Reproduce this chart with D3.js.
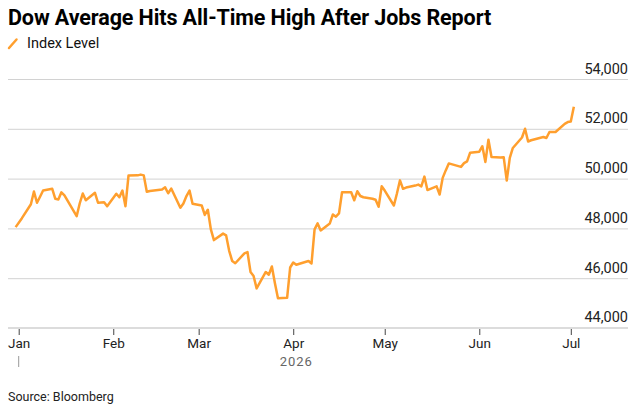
<!DOCTYPE html>
<html>
<head>
<meta charset="utf-8">
<script src="https://cdn.jsdelivr.net/npm/d3@7"></script>
<style>
  body { margin: 0; background: #fff; }
  svg { display: block; font-family: Roboto, "Liberation Sans", sans-serif; }
</style>
</head>
<body>
<svg width="642" height="413"></svg>
<script>
// Dow Jones close
var dates = [
  "2025-12-31","2026-01-02","2026-01-05","2026-01-06","2026-01-07","2026-01-08","2026-01-09",
  "2026-01-12","2026-01-13","2026-01-14","2026-01-15","2026-01-16","2026-01-20","2026-01-21",
  "2026-01-22","2026-01-23","2026-01-26","2026-01-27","2026-01-28","2026-01-29","2026-01-30",
  "2026-02-02","2026-02-03","2026-02-04","2026-02-05","2026-02-06","2026-02-09","2026-02-10",
  "2026-02-11","2026-02-12","2026-02-13","2026-02-17","2026-02-18","2026-02-19","2026-02-20",
  "2026-02-23","2026-02-24","2026-02-25","2026-02-26","2026-02-27",
  "2026-03-02","2026-03-03","2026-03-04","2026-03-05","2026-03-06","2026-03-09","2026-03-10",
  "2026-03-11","2026-03-12","2026-03-13","2026-03-16","2026-03-17","2026-03-18","2026-03-19",
  "2026-03-20","2026-03-23","2026-03-24","2026-03-25","2026-03-26","2026-03-27","2026-03-30",
  "2026-03-31","2026-04-01","2026-04-02","2026-04-06","2026-04-07","2026-04-08","2026-04-09",
  "2026-04-10","2026-04-13","2026-04-14","2026-04-15","2026-04-16","2026-04-17","2026-04-20",
  "2026-04-21","2026-04-22","2026-04-23","2026-04-24","2026-04-27","2026-04-28","2026-04-29",
  "2026-04-30","2026-05-01","2026-05-04","2026-05-05","2026-05-06","2026-05-07","2026-05-08",
  "2026-05-11","2026-05-12","2026-05-13","2026-05-14","2026-05-15","2026-05-18","2026-05-19",
  "2026-05-20","2026-05-21","2026-05-22","2026-05-26","2026-05-27","2026-05-28","2026-05-29",
  "2026-06-01","2026-06-02","2026-06-03","2026-06-04","2026-06-05","2026-06-08","2026-06-09",
  "2026-06-10","2026-06-11","2026-06-12","2026-06-15","2026-06-16","2026-06-17","2026-06-18",
  "2026-06-22","2026-06-23","2026-06-24","2026-06-25","2026-06-26","2026-06-29","2026-06-30",
  "2026-07-01","2026-07-02"
];
var values = [
  48050,48400,48970,49480,49030,49270,49520,
  49590,49190,49160,49450,49330,48490,49000,
  49400,49130,49430,49030,49040,49050,48890,
  49390,49250,49520,48890,50120,50130,50160,
  50130,49470,49500,49560,49650,49410,49600,
  48830,49000,49300,49520,48990,
  48920,48540,48750,47960,47530,47790,47720,
  47100,46690,46600,47000,47050,46250,46090,
  45590,46250,46140,46470,45800,45190,45210,
  46430,46630,46540,46690,46590,47960,48200,
  47920,48200,48560,48470,48600,49450,49450,
  49130,49490,49300,49250,49190,49150,48870,
  49690,49520,48920,49400,49930,49590,49640,
  49720,49760,49690,50080,49540,49690,49360,
  50030,50330,50610,50470,50620,50690,51040,
  51080,51300,50670,51560,50870,50850,50860,
  49920,50830,51230,51650,52000,51490,51540,
  51670,51630,51870,51870,51870,52200,52270,
  52290,52890
];
var monthTicks = ["2026-01-01","2026-02-01","2026-03-01","2026-04-01","2026-05-01","2026-06-01","2026-07-01"];
var yTicks = [44000, 46000, 48000, 50000, 52000, 54000];

var parse = d3.timeParse("%Y-%m-%d");
var data = dates.map(function(d, i) { return {date: parse(d), value: values[i]}; });

var svg = d3.select("svg");

var x = d3.scaleTime()
    .domain([parse("2026-01-01"), parse("2026-07-01")])
    .range([18.7, 570.8]);
var y = d3.scaleLinear()
    .domain([44000, 54000])
    .range([328, 79]);

// title + legend
svg.append("text")
    .attr("x", 8).attr("y", 25)
    .attr("font-size", 21.5).attr("font-weight", 700)
    .attr("letter-spacing", -0.1)
    .attr("fill", "#000")
    .text("Dow Average Hits All-Time High After Jobs Report");

svg.append("line")
    .attr("x1", 9).attr("y1", 48).attr("x2", 16.5).attr("y2", 39.5)
    .attr("stroke", "#ff9f2e").attr("stroke-width", 2.5).attr("stroke-linecap", "round");
svg.append("text")
    .attr("x", 27).attr("y", 48)
    .attr("font-size", 14.5).attr("fill", "#111")
    .text("Index Level");

// y gridlines and labels
var yAxis = svg.append("g")
    .attr("transform", "translate(628,0)")
    .call(d3.axisLeft(y).tickValues(yTicks.slice(1)).tickSize(620).tickFormat(d3.format(",")));
yAxis.select(".domain").remove();
yAxis.selectAll(".tick line").attr("stroke", "#d2d2d2");
yAxis.selectAll(".tick text")
    .attr("x", 0).attr("dy", -6)
    .attr("text-anchor", "end")
    .attr("font-size", 14.5).attr("font-family", "Roboto, sans-serif")
    .attr("fill", "#222");

// baseline 44,000
svg.append("line")
    .attr("x1", 8).attr("x2", 628)
    .attr("y1", y(44000)).attr("y2", y(44000))
    .attr("stroke", "#dcdcdc").attr("stroke-width", 2);
svg.append("text")
    .attr("x", 628).attr("y", y(44000) - 6)
    .attr("text-anchor", "end")
    .attr("font-size", 14.5).attr("fill", "#222")
    .text(d3.format(",")(yTicks[0]));

// x axis
var xAxis = svg.append("g")
    .attr("transform", "translate(0," + (y(44000) + 1) + ")")
    .call(d3.axisBottom(x).tickValues(monthTicks.map(parse)).tickSize(6).tickPadding(3).tickFormat(d3.timeFormat("%b")));
xAxis.select(".domain").remove();
xAxis.selectAll(".tick line").attr("stroke", "#444");
xAxis.selectAll(".tick text")
    .attr("font-size", 13.5).attr("font-family", "Roboto, sans-serif")
    .attr("fill", "#222");

// year marker
svg.append("line")
    .attr("x1", x(parse("2026-01-01"))).attr("x2", x(parse("2026-01-01")))
    .attr("y1", 356).attr("y2", 367)
    .attr("stroke", "#999").attr("stroke-width", 1);
svg.append("text")
    .attr("x", x(parse("2026-04-02"))).attr("y", 366)
    .attr("text-anchor", "middle")
    .attr("font-size", 13).attr("letter-spacing", 1)
    .attr("fill", "#666")
    .text("2026");

// line
var line = d3.line()
    .x(function(d) { return x(d.date); })
    .y(function(d) { return y(d.value); });

svg.append("path")
    .datum(data)
    .attr("fill", "none")
    .attr("stroke", "#ff9f2e")
    .attr("stroke-width", 2.5)
    .attr("stroke-linejoin", "round")
    .attr("d", line);

// source
svg.append("text")
    .attr("x", 8).attr("y", 401)
    .attr("font-size", 12.5).attr("fill", "#222")
    .text("Source: Bloomberg");
</script>
</body>
</html>
